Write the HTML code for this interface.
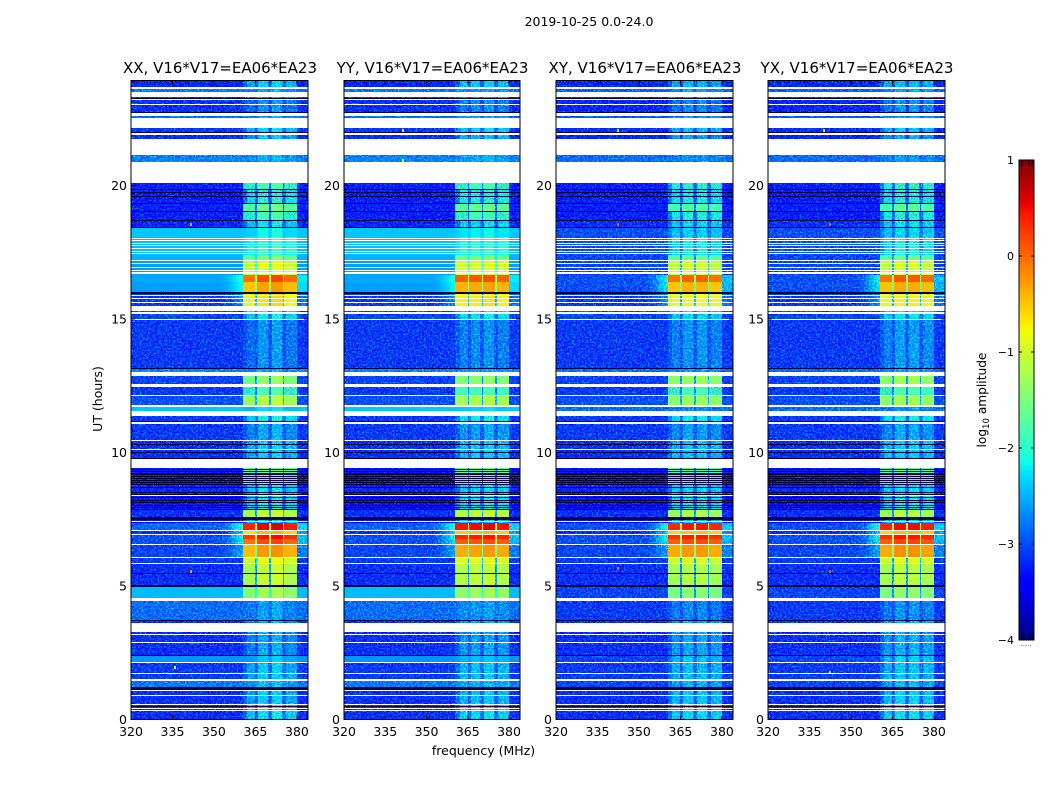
<!DOCTYPE html>
<html lang="en">
<head>
<meta charset="utf-8">
<title>2019-10-25 0.0-24.0</title>
<style>
html,body{margin:0;padding:0;background:#fff;width:1050px;height:800px;overflow:hidden}
svg{display:block}
text{font-family:"DejaVu Sans","Liberation Sans",sans-serif;fill:#000}
</style>
</head>
<body>
<svg id="chart" xmlns="http://www.w3.org/2000/svg" width="1050" height="800" viewBox="0 0 1050 800">
  <defs>
    <filter id="grain" x="0" y="0" width="100%" height="100%" color-interpolation-filters="sRGB">
      <feTurbulence type="fractalNoise" baseFrequency="0.62" numOctaves="1" seed="4" result="n"/>
      <feColorMatrix in="n" type="matrix" values="0 0 0 0 0.2  1.7 0 0 0 -0.7  0 0 0 0 0.2  0 0 0 0 1" result="g"/>
      <feComposite in="SourceGraphic" in2="g" operator="arithmetic" k1="0" k2="1" k3="1" k4="-0.2"/>
    </filter>
  </defs>
  <text x="589" y="26" font-size="12.5" text-anchor="middle">2019-10-25 0.0-24.0</text>
  <text x="483.5" y="755" font-size="12.5" text-anchor="middle">frequency (MHz)</text>
  <text x="102" y="399" font-size="12.5" text-anchor="middle" transform="rotate(-90 102 399)">UT (hours)</text>
  <text x="986" y="400" font-size="12.2" text-anchor="middle" transform="rotate(-90 986 400)">log<tspan font-size="8.5" dy="3">10</tspan><tspan dy="-3"> amplitude</tspan></text>
  <g id="panels"></g>
  <g id="colorbar"></g>
</svg>
<script>
// ---- data (log10 amplitude; UT in hours, frequency in MHz) ----
const panelNames = ['XX', 'YY', 'XY', 'YX'];
const panelTitles = ['XX, V16*V17=EA06*EA23', 'YY, V16*V17=EA06*EA23', 'XY, V16*V17=EA06*EA23', 'YX, V16*V17=EA06*EA23'];
const xTicks = [320, 335, 350, 365, 380];
const yTicks = [0, 5, 10, 15, 20];
const colorTicks = [1, 0, -1, -2, -3, -4];
const colorTickLabels = ['1', '0', '\u22121', '\u22122', '\u22123', '\u22124'];

const segmentEdges = [23.92,23.70,23.50,22.73,22.53,21.99,21.14,20.89,20.10,19.88,19.36,19.05,18.71,18.45,18.08,17.40,17.20,16.65,16.40,16.03,15.49,15.01,13.15,13.03,12.57,12.15,11.78,11.55,11.19,11.07,10.46,9.41,8.82,8.41,7.88,7.60,7.37,7.10,6.93,6.75,6.55,6.08,5.83,4.95,4.56,3.73,2.42,2.17,1.44,1.23,0.56,0.00];
const offParallel = [-3.15,-2.75,-3.1,-2.8,-3.05,-3.1,-2.7,-3.1,-3.2,-3.2,-3.2,-3.2,-3.15,-2.4,-2.45,-2.5,-2.6,-2.55,-2.6,-3.05,-3.0,-3.05,-2.7,-3.0,-3.05,-2.95,-2.4,-3.05,-2.7,-3.05,-3.1,-3.2,-3.15,-3.25,-3.1,-3.3,-2.85,-3.1,-2.95,-2.95,-3.0,-3.05,-3.1,-2.45,-2.8,-3.1,-2.65,-3.05,-2.75,-3.1,-3.1];
const offCross = [-3.15,-2.85,-3.15,-2.9,-3.1,-3.15,-2.8,-3.1,-3.2,-3.2,-3.2,-3.2,-3.1,-2.95,-2.95,-3.0,-3.0,-2.95,-2.95,-3.05,-3.0,-3.05,-2.8,-3.0,-3.05,-2.95,-2.8,-3.05,-2.8,-3.05,-3.1,-3.2,-3.15,-3.25,-3.1,-3.3,-2.95,-3.1,-2.95,-2.95,-3.0,-3.05,-3.1,-3.0,-3.05,-3.1,-3.0,-3.05,-3.0,-3.1,-3.1];
const bandParallel = [-2.4,-2.6,-2.7,-2.6,-2.35,-2.5,-2.55,-2.6,-1.95,-2.15,-1.7,-1.95,-2.3,-2.25,-2.05,-1.6,-1.0,0.05,-0.4,-0.75,-2.25,-2.7,-2.6,-1.45,-1.9,-1.25,-2.4,-2.2,-2.5,-2.6,-2.4,-1.7,-2.3,-2.2,-1.15,-2.4,0.45,-0.55,0.35,0.05,-0.35,-0.95,-1.15,-1.35,-2.65,-2.6,-2.5,-2.45,-2.5,-2.45,-2.3];
const bandCross = [-2.5,-2.6,-2.7,-2.6,-2.45,-2.6,-2.65,-2.6,-2.05,-2.2,-1.8,-2.1,-2.3,-2.35,-2.2,-1.7,-1.05,0.0,-0.45,-0.85,-2.3,-2.65,-2.6,-1.35,-1.9,-1.35,-2.7,-2.2,-2.5,-2.6,-2.4,-1.8,-2.3,-2.2,-1.25,-2.4,0.4,-0.55,0.35,0.1,-0.3,-1.0,-1.2,-1.45,-2.7,-2.55,-2.4,-2.45,-2.5,-2.4,-2.3];
const rampPeak = [null,null,null,null,null,null,null,null,null,null,null,null,null,null,null,null,null,-2.0,-2.1,-2.6,null,null,null,null,null,null,null,null,null,null,null,null,null,null,null,null,-1.9,-2.3,-2.0,-2.1,-2.5,null,null,null,null,null,null,null,null,null,null];

const rampShape = [0.03,0.08,0.15,0.25,0.4,0.55,0.7,0.85,1];            // weight for 352..360 MHz
const subbandLow = [360.6,365.6,370.6,375.6];
const subbandHigh = [365.1,370.0,375.0,380.0];
const streakLow = [361.8,365.8,370.9,376.0];
const streakHigh = [364.9,369.6,374.6,379.8];
const subbandGainXX = [-0.1,0.1,0.15,-0.05];
const subbandGainYY = [0.0,0.05,0.1,0.0];
const subbandGainXY = [-0.05,0.05,0.05,-0.05];
const subbandGainYX = [-0.05,0.1,0.1,0.0];

const flaggedTop = [23.70,23.50,23.24,23.05,22.73,22.53,21.96,21.75,20.89,18.05,17.96,17.84,17.77,17.65,17.55,17.48,17.21,17.09,16.95,16.83,16.75,15.91,15.78,15.63,15.49,15.26,15.01,13.03,12.57,12.15,11.78,11.55,11.15,10.46,10.12,9.75,8.42,7.44,7.10,6.94,6.56,6.09,5.87,4.56,3.60,3.57,3.22,2.89,2.17,1.75,1.52,1.22,0.93,0.57,0.44,0.35];
const flaggedBottom = [23.62,23.31,23.20,23.01,22.59,22.15,21.89,21.14,20.10,18.01,17.92,17.80,17.73,17.61,17.51,17.44,17.17,17.05,16.91,16.79,16.68,15.87,15.74,15.59,15.31,15.20,14.96,12.87,12.46,12.12,11.69,11.37,11.07,10.42,10.08,9.41,8.36,7.38,7.06,6.90,6.52,6.05,5.83,4.43,3.57,3.27,3.18,2.85,2.13,1.71,1.44,1.08,0.89,0.53,0.38,0.31];
const deadRows = [23.27,22.76,21.99,19.88,19.77,19.61,19.36,19.05,18.71,18.45,16.02,15.99,13.15,11.19,10.32,10.01,9.78,9.38,9.32,9.24,9.18,9.12,9.03,8.97,8.91,8.82,8.72,8.53,8.45,8.34,8.22,8.16,8.03,7.97,7.88,7.60,7.54,7.50,5.47,5.03,5.00,3.73,2.42,1.21,1.17,1.13,0.50,0.02];

const spotPanel = [0,0,0,1,1,1,2,2,2,3,3,3,3];
const spotFreq = [335.5,341.5,341.5,341,341,341.5,342,342,342,342,342,342,340];
const spotUT = [2.0,5.6,18.6,22.1,21.0,23.5,5.7,18.6,22.1,5.6,1.8,18.6,22.1];
const spotLevel = [-1.1,-0.2,-0.3,-1.0,-1.0,-1.1,0.0,0.0,-1.1,0.1,-0.5,0.0,-1.0];

// ---- axes ----
const panelLeft = [131, 344, 556, 768];
const panelWidth = [177, 176, 177, 177];
const plotTop = 81, plotBottom = 719.5;
const freqMin = 320, freqMax = 384, utMin = 0, utMax = 23.915, channelStep = 0.5;
const cbLeft = 1019, cbRight = 1034, cbTop = 160, cbBottom = 640, vMin = -4, vMax = 1;
const smoothLevel = -1.9, smoothOff = -2.65;
const gapWeightHot = 0.58, gapWeightCool = 0.3;
function xScale(p, f) { return panelLeft[p] + (f - freqMin) / (freqMax - freqMin) * panelWidth[p]; }
function yScale(h) { return plotBottom - (h - utMin) / (utMax - utMin) * (plotBottom - plotTop); }
function cbScale(v) { return cbBottom - (v - vMin) / (vMax - vMin) * (cbBottom - cbTop); }

function interp(t, xs, ys) {
  for (let i = 1; i < xs.length; i++) if (t <= xs[i]) return ys[i-1] + (ys[i]-ys[i-1]) * (t-xs[i-1]) / (xs[i]-xs[i-1]);
  return ys[ys.length-1];
}
function jet(v) {
  const t = Math.max(0, Math.min(1, (v - vMin) / (vMax - vMin)));
  const r = interp(t, [0,.35,.66,.89,1], [0,0,1,1,.5]);
  const g = interp(t, [0,.125,.375,.64,.91,1], [0,0,1,1,0,0]);
  const b = interp(t, [0,.11,.34,.65,1], [.5,1,1,0,0]);
  return 'rgb(' + Math.round(r*255) + ',' + Math.round(g*255) + ',' + Math.round(b*255) + ')';
}
function inAny(f, lows, highs) {
  for (let i = 0; i < lows.length; i++) if (f >= lows[i] && f < highs[i]) return i;
  return -1;
}
function gainsFor(p) { return [subbandGainXX, subbandGainYY, subbandGainXY, subbandGainYX][p]; }
function offFor(p, s) { return p >= 2 ? offCross[s] : offParallel[s]; }

function cellValue(p, s, f) {
  const off = offFor(p, s);
  const band = p >= 2 ? bandCross[s] : bandParallel[s];
  const ramp = rampPeak[s];
  if (f < 352) return off;
  if (f < subbandLow[0]) {
    if (ramp === null) return off;
    const w = rampShape[Math.min(rampShape.length - 1, Math.floor(f - 352))];
    return off + (ramp - off) * w;
  }
  if (f >= subbandHigh[3]) return ramp === null ? off : off + (ramp - off) * 0.6;
  const sb = inAny(f, subbandLow, subbandHigh);
  if (sb < 0) return off + (band - off) * (band > -0.7 ? gapWeightHot : gapWeightCool);
  const v = band + gainsFor(p)[sb];
  if (band < -2.0 && inAny(f, streakLow, streakHigh) < 0) return off + (v - off) * 0.45;
  return v;
}

const NS = 'http://www.w3.org/2000/svg';
function mk(tag, parent) { const e = document.createElementNS(NS, tag); parent.appendChild(e); return e; }
function setRect(e, x, y, w, h, fill) {
  e.setAttribute('x', x); e.setAttribute('y', y); e.setAttribute('width', w); e.setAttribute('height', h);
  e.setAttribute('fill', fill); e.setAttribute('shape-rendering', 'crispEdges');
}
function setLine(e, x1, y1, x2, y2) {
  e.setAttribute('x1', x1); e.setAttribute('y1', y1); e.setAttribute('x2', x2); e.setAttribute('y2', y2);
  e.setAttribute('stroke', '#000'); e.setAttribute('stroke-width', '1');
}
function setLabel(e, x, y, size, anchor, str) {
  e.setAttribute('x', x); e.setAttribute('y', y); e.setAttribute('font-size', size);
  e.setAttribute('text-anchor', anchor); e.textContent = str;
}

const panelsRoot = document.getElementById('panels');
panelNames.forEach(function (name, p) {
  const g = mk('g', panelsRoot);
  
  

  const title = mk('text', g);
  
  
  setLabel(title, xScale(p, 352) + 0.5, 73, 15, 'middle', panelTitles[p]);

  const cells = mk('g', g);
  
  
  cells.setAttribute('filter', 'url(#grain)');

  const smoothCells = mk('g', g);
  
  

  const bg = mk('rect', cells);
  
  
  setRect(bg, panelLeft[p], plotTop, panelWidth[p], plotBottom - plotTop, jet(-3.1));

  for (let s = 0; s < segmentEdges.length - 1; s++) {
    const y0 = Math.round(yScale(segmentEdges[s]));
    const y1 = Math.round(yScale(segmentEdges[s + 1]));
    const smoothRow = offFor(p, s) >= smoothOff;
    let runStart = freqMin, runValue = null;
    for (let f = freqMin; f <= freqMax; f += channelStep) {
      const value = f < freqMax ? cellValue(p, s, f + channelStep / 2) : null;
      if (value !== runValue) {
        if (runValue !== null) {
          const x0 = Math.round(xScale(p, runStart));
          const x1 = Math.round(xScale(p, f));
          const cell = mk('rect', (smoothRow || runValue >= smoothLevel) ? smoothCells : cells);
          
          
          setRect(cell, x0, y0, x1 - x0, y1 - y0, jet(runValue));
        }
        runStart = f; runValue = value;
      }
    }
  }

  spotPanel.forEach(function (sp, i) {
    if (sp !== p) return;
    const spot = mk('rect', g);
    
    
    setRect(spot, Math.round(xScale(p, spotFreq[i])), Math.round(yScale(spotUT[i])), 2, 3, jet(spotLevel[i]));
  });

  flaggedTop.forEach(function (top, i) {
    const y0 = Math.round(yScale(top));
    const y1 = Math.round(yScale(flaggedBottom[i]));
    const band = mk('rect', g);
    
    
    setRect(band, panelLeft[p], y0, panelWidth[p], Math.max(1, y1 - y0), '#fff');
  });

  deadRows.forEach(function (ut) {
    const row = mk('rect', g);
    
    
    setRect(row, panelLeft[p], Math.round(yScale(ut)), panelWidth[p], 1, '#00003a');
  });

  const frame = mk('rect', g);
  
  
  frame.setAttribute('x', panelLeft[p]);
  frame.setAttribute('y', plotTop - 0.5);
  frame.setAttribute('width', panelWidth[p]);
  frame.setAttribute('height', plotBottom - plotTop + 0.5);
  frame.setAttribute('fill', 'none');
  frame.setAttribute('stroke', '#000');
  frame.setAttribute('stroke-width', '1');

  xTicks.forEach(function (tick) {
    const x = xScale(p, tick);
    const b = mk('line', g);
    
    
    setLine(b, x, plotBottom, x, plotBottom - 4);
    const t = mk('line', g);
    
    
    setLine(t, x, plotTop, x, plotTop + 4);
    const label = mk('text', g);
    
    
    setLabel(label, x, 736, 12.5, 'middle', String(tick));
  });

  yTicks.forEach(function (tick) {
    const y = yScale(tick);
    const l = mk('line', g);
    
    
    setLine(l, panelLeft[p], y, panelLeft[p] + 4, y);
    const r = mk('line', g);
    
    
    setLine(r, panelLeft[p] + panelWidth[p], y, panelLeft[p] + panelWidth[p] - 4, y);
    const label = mk('text', g);
    
    
    setLabel(label, panelLeft[p] - 4, y + 4.5, 12.5, 'end', String(tick));
  });
});

// ---- colorbar ----
const cbRoot = document.getElementById('colorbar');
for (let py = cbTop; py < cbBottom; py += 2) {
  const v = vMax - (py + 1 - cbTop) / (cbBottom - cbTop) * (vMax - vMin);
  const step = mk('rect', cbRoot);
  
  
  setRect(step, cbLeft, py, cbRight - cbLeft, 2, jet(v));
}
const cbFrame = mk('rect', cbRoot);


cbFrame.setAttribute('x', cbLeft);
cbFrame.setAttribute('y', cbTop);
cbFrame.setAttribute('width', cbRight - cbLeft);
cbFrame.setAttribute('height', cbBottom - cbTop);
cbFrame.setAttribute('fill', 'none');
cbFrame.setAttribute('stroke', '#000');
cbFrame.setAttribute('stroke-width', '1');
colorTicks.forEach(function (tick, i) {
  const y = cbScale(tick);
  const a = mk('line', cbRoot);
  
  
  setLine(a, cbLeft, y, cbLeft + 3, y);
  const b = mk('line', cbRoot);
  
  
  setLine(b, cbRight, y, cbRight - 3, y);
  const label = mk('text', cbRoot);
  
  
  setLabel(label, cbLeft - 5, y + 4, 11, 'end', colorTickLabels[i]);
});
[1022, 1025.5, 1029, 1032].forEach(function (x) {
  const top = mk('line', cbRoot);
  
  
  setLine(top, x, cbTop, x, cbTop + 6);
  const bot = mk('line', cbRoot);
  
  
  setLine(bot, x, cbBottom, x, cbBottom - 6);
});
const cbDots = mk('text', cbRoot);


cbDots.setAttribute('fill', '#777');
setLabel(cbDots, 1026, 646, 6, 'middle', '......');
</script>
</body>
</html>
